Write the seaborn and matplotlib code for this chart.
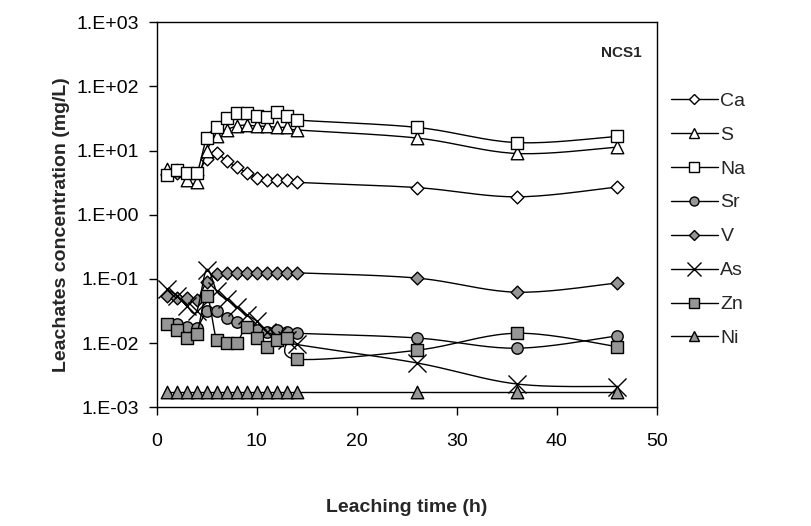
import numpy as np
import pandas as pd
import matplotlib
matplotlib.use("Agg")
import matplotlib.pyplot as plt
from matplotlib.lines import Line2D
from matplotlib.ticker import FixedLocator, FuncFormatter, NullLocator
import seaborn as sns

# ---------------- data ----------------
time_h = [1, 2, 3, 4, 5, 6, 7, 8, 9, 10, 11, 12, 13, 14, 26, 36, 46]
Ca = [4.3, 4.5, 4.2, 4.2, 7.5, 9.0, 6.8, 5.5, 4.5, 3.8, 3.5, 3.5, 3.5, 3.2, 2.65, 1.9, 2.7]
S = [5.2, 5.0, 3.5, 3.2, 10.0, 16.6, 21.0, 24.0, 25.0, 24.0, 24.0, 23.0, 23.0, 21.0, 15.7, 9.0, 11.3]
Na = [4.1, 4.9, 4.4, 4.4, 15.7, 23.0, 32.0, 38.0, 38.0, 35.0, 33.0, 40.0, 35.0, 30.0, 23.0, 13.3, 16.6]
Sr = [0.020, 0.0198, 0.0177, 0.017, 0.031, 0.031, 0.0247, 0.021, 0.018, 0.0158, 0.015, 0.0158, 0.015, 0.0142, 0.012, 0.0083, 0.0129]
V = [0.054, 0.051, 0.050, 0.047, 0.089, 0.120, 0.124, 0.125, 0.125, 0.124, 0.124, 0.124, 0.124, 0.124, 0.103, 0.062, 0.086]
As = [0.070, 0.055, 0.038, 0.031, 0.139, 0.064, 0.048, 0.036, 0.0276, 0.022, 0.015, 0.013, 0.011, 0.0095, 0.0049, 0.0023, 0.0021]
Zn = [0.0198, 0.0158, 0.012, 0.0137, 0.055, 0.0113, 0.0101, 0.0101, 0.0177, 0.012, 0.0088, 0.011, 0.012, 0.0056, 0.0077, 0.0142, 0.0088]
Ni = [0.0017, 0.0017, 0.0017, 0.0017, 0.0017, 0.0017, 0.0017, 0.0017, 0.0017, 0.0017, 0.0017, 0.0017, 0.0017, 0.0017, 0.0017, 0.0017, 0.0017]

series_names = ["Ca", "S", "Na", "Sr", "V", "As", "Zn", "Ni"]
series_values = [Ca, S, Na, Sr, V, As, Zn, Ni]
x_ticks = [0, 10, 20, 30, 40, 50]
y_ticks = [1e-3, 1e-2, 1e-1, 1e0, 1e1, 1e2, 1e3]

GRAY = "#969696"
# marker, face colour, size in plot, size in legend (points)
styles = {
    "Ca": dict(marker="D", face="white", ms=6.5, lms=4.8),
    "S": dict(marker="^", face="white", ms=9.0, lms=7.3),
    "Na": dict(marker="s", face="white", ms=8.2, lms=6.7),
    "Sr": dict(marker="o", face=GRAY, ms=8.2, lms=6.5),
    "V": dict(marker="D", face=GRAY, ms=6.5, lms=4.8),
    "As": dict(marker="x", face="black", ms=13.0, lms=10.0),
    "Zn": dict(marker="s", face=GRAY, ms=8.2, lms=6.7),
    "Ni": dict(marker="^", face=GRAY, ms=9.0, lms=7.3),
}


def smooth(xs, ys, n=20):
    """Smoothed (Bezier / Catmull-Rom) curve through the points in t / log10 space."""
    x = np.asarray(xs, float)
    y = np.log10(np.asarray(ys, float))
    P = np.column_stack([x, y])
    P = np.vstack([P[0], P, P[-1]])
    out = []
    u = np.linspace(0, 1, n, endpoint=False)
    for i in range(1, len(P) - 2):
        p0, p1, p2, p3 = P[i - 1], P[i], P[i + 1], P[i + 2]
        c1 = p1 + (p2 - p0) / 6.0
        c2 = p2 - (p3 - p1) / 6.0
        b = ((1 - u) ** 3)[:, None] * p1 + (3 * (1 - u) ** 2 * u)[:, None] * c1 \
            + (3 * (1 - u) * u ** 2)[:, None] * c2 + (u ** 3)[:, None] * p2
        out.append(b)
    out.append(P[-2][None, :])
    B = np.vstack(out)
    return B[:, 0], 10 ** B[:, 1]


sns.set_theme(style="white")
plt.rcParams["font.family"] = ["Liberation Sans", "DejaVu Sans"]

FS = 14
fig = plt.figure(figsize=(8.12, 5.26), dpi=100)
ax = fig.add_axes([0.1929, 0.2259, 0.6158, 0.7318])

for k, (name, vals) in enumerate(zip(series_names, series_values)):
    st = styles[name]
    sx, sy = smooth(time_h, vals)
    df_line = pd.DataFrame({"t": sx, "c": sy})
    sns.lineplot(data=df_line, x="t", y="c", ax=ax, color="black", lw=1.0,
                 sort=False, estimator=None, zorder=2 + 2 * k)
    df_pts = pd.DataFrame({"t": time_h, "c": vals})
    if st["marker"] == "x":
        sns.scatterplot(data=df_pts, x="t", y="c", ax=ax, marker="x",
                        color="black", s=st["ms"] ** 2, linewidth=1.0,
                        zorder=3 + 2 * k)
    else:
        sns.scatterplot(data=df_pts, x="t", y="c", ax=ax, marker=st["marker"],
                        facecolor=st["face"], edgecolor="black",
                        s=st["ms"] ** 2, linewidth=1.0, zorder=3 + 2 * k)

ax.set_yscale("log")
ax.set_xlim(0, 50)
ax.set_ylim(1e-3, 1e3)
ax.xaxis.set_major_locator(FixedLocator(x_ticks))
ax.yaxis.set_major_locator(FixedLocator(y_ticks))
ax.yaxis.set_minor_locator(NullLocator())
ax.xaxis.set_minor_locator(NullLocator())
ax.yaxis.set_major_formatter(FuncFormatter(lambda v, p: "1.E%+03d" % int(round(np.log10(v)))))
ax.xaxis.set_major_formatter(FuncFormatter(lambda v, p: "%d" % v))

for sp in ax.spines.values():
    sp.set_visible(True)
    sp.set_color("black")
    sp.set_linewidth(1.0)

ax.tick_params(axis="both", which="major", direction="out", length=5.5, width=1,
               color="black", labelsize=FS, labelcolor="black",
               left=True, bottom=True, top=False, right=False)
ax.tick_params(axis="y", pad=7)
ax.tick_params(axis="x", pad=13)
ax.set_xlabel("Leaching time (h)", fontsize=FS, fontweight="bold")
ax.set_ylabel("Leachates concentration (mg/L)", fontsize=FS, fontweight="bold")
ax.xaxis.set_label_coords(0.5, -0.238)
ax.yaxis.set_label_coords(-0.173, 0.473)

ax.text(0.969, 0.919, "NCS1", transform=ax.transAxes, ha="right", va="center",
        fontsize=11, fontweight="bold")

handles = []
for name in series_names:
    st = styles[name]
    if st["marker"] == "x":
        h = Line2D([], [], color="black", lw=1.0, marker="x", ms=st["lms"], mew=1.0)
    else:
        h = Line2D([], [], color="black", lw=1.0, marker=st["marker"],
                   mfc=st["face"], mec="black", ms=st["lms"], mew=1.0)
    handles.append(h)

fig.legend(handles, series_names, loc="upper left", bbox_to_anchor=(0.8264, 0.825),
           frameon=False, fontsize=FS, handlelength=2.39, handletextpad=0.15,
           labelspacing=0.84, borderaxespad=0, borderpad=0)

fig.savefig("out.png", dpi=100)
